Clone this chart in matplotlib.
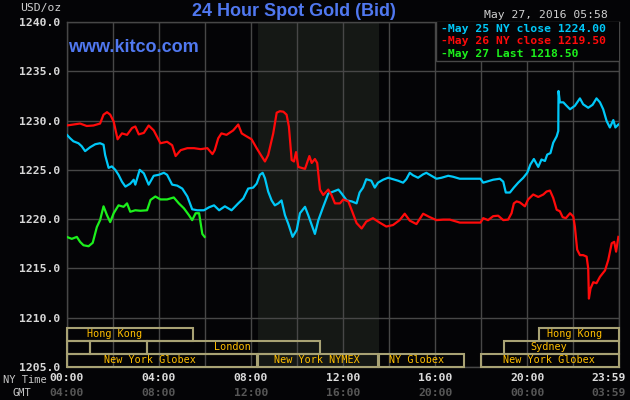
import matplotlib
matplotlib.use('Agg')
import matplotlib.pyplot as plt
from matplotlib.patches import Rectangle
import matplotlib.transforms as mtransforms

# hours since 00:00 NY time, bid price in USD/oz
cyan_t = [0, 0.15, 0.29, 0.51, 0.65, 0.8, 1.02, 1.24, 1.45, 1.6, 1.67, 1.82, 1.96, 2.11, 2.25, 2.4, 2.55,
          2.76, 2.91, 2.98, 3.17, 3.35, 3.56, 3.78, 4.0, 4.22, 4.36, 4.58, 4.8, 5.02, 5.24, 5.45, 5.67,
          5.96, 6.18, 6.4, 6.62, 6.87, 7.16, 7.45, 7.67, 7.88, 8.1, 8.25, 8.39, 8.51, 8.61, 8.75, 8.9,
          9.04, 9.19, 9.33, 9.48, 9.62, 9.81, 9.99, 10.13, 10.35, 10.49, 10.64, 10.78, 10.93, 11.14,
          11.36, 11.58, 11.8, 11.94, 12.16, 12.38, 12.59, 12.72, 12.87, 13.01, 13.23, 13.38, 13.52,
          13.74, 13.96, 14.17, 14.39, 14.61, 14.75, 14.9, 15.04, 15.26, 15.48, 15.62, 15.84, 16.06,
          16.28, 16.57, 16.78, 17.07, 17.97, 18.09, 18.3, 18.52, 18.81, 18.96, 19.07, 19.25, 19.42,
          19.61, 19.83, 20.0, 20.14, 20.29, 20.48, 20.62, 20.77, 20.87, 21.01, 21.13, 21.28, 21.35,
          21.36, 21.42, 21.57, 21.71, 21.86, 22.07, 22.29, 22.43, 22.65, 22.84, 23.01, 23.16, 23.3,
          23.45, 23.59, 23.74, 23.83, 23.96]
cyan_p = [1228.57, 1228.2, 1227.9, 1227.7, 1227.4, 1226.9, 1227.3, 1227.6, 1227.7, 1227.55, 1226.5,
          1225.2, 1225.35, 1225.0, 1224.5, 1223.8, 1223.3, 1223.6, 1224.0, 1223.5, 1225.0, 1224.65,
          1223.5, 1224.4, 1224.5, 1224.7, 1224.5, 1223.5, 1223.4, 1223.1, 1222.3, 1221.0, 1220.9,
          1220.9, 1221.2, 1221.4, 1220.9, 1221.3, 1220.9, 1221.6, 1222.1, 1223.1, 1223.2, 1223.6,
          1224.5, 1224.7, 1224.15, 1222.8, 1221.9, 1221.4, 1221.6, 1221.9, 1220.4, 1219.55, 1218.2,
          1218.9, 1220.6, 1221.25, 1220.4, 1219.4, 1218.5, 1219.9, 1221.25, 1222.6, 1222.8, 1223.0,
          1222.6, 1221.9, 1221.8, 1221.6, 1222.7, 1223.2, 1224.05, 1223.9, 1223.2, 1223.7, 1224.0,
          1224.2, 1224.05, 1223.9, 1223.7, 1224.05, 1224.7, 1224.45, 1224.2, 1224.55, 1224.7, 1224.4,
          1224.1, 1224.2, 1224.4, 1224.3, 1224.1, 1224.1, 1223.7, 1223.85, 1224.0, 1224.1, 1223.8,
          1222.7, 1222.7, 1223.2, 1223.7, 1224.2, 1224.7, 1225.55, 1226.1, 1225.3, 1226.05, 1225.9,
          1226.55, 1226.7, 1227.75, 1228.4, 1228.95, 1233.0, 1231.85, 1231.85, 1231.5, 1231.15,
          1231.5, 1232.25, 1231.65, 1231.3, 1231.6, 1232.25, 1231.85, 1231.15, 1229.95, 1229.3,
          1230.05, 1229.3, 1229.6]

red_t = [0, 0.29, 0.58, 0.87, 1.16, 1.45, 1.6, 1.75, 1.89, 2.04, 2.21, 2.4, 2.62, 2.84, 2.98, 3.13,
         3.35, 3.56, 3.78, 4.07, 4.36, 4.58, 4.73, 4.95, 5.24, 5.53, 5.82, 6.11, 6.33, 6.43, 6.58,
         6.72, 6.94, 7.23, 7.45, 7.6, 7.81, 8.03, 8.25, 8.46, 8.61, 8.75, 8.97, 9.12, 9.26, 9.41,
         9.55, 9.65, 9.77, 9.87, 9.96, 10.06, 10.2, 10.35, 10.54, 10.64, 10.78, 10.88, 11.0, 11.14,
         11.36, 11.5, 11.65, 11.87, 12.01, 12.23, 12.38, 12.59, 12.81, 13.01, 13.3, 13.59, 13.88,
         14.17, 14.46, 14.68, 14.9, 15.19, 15.48, 15.77, 16.06, 16.35, 16.64, 16.93, 17.07, 17.97,
         18.09, 18.3, 18.52, 18.74, 18.96, 19.17, 19.32, 19.42, 19.54, 19.68, 19.9, 20.04, 20.26,
         20.48, 20.7, 20.84, 20.99, 21.13, 21.28, 21.42, 21.54, 21.68, 21.86, 22.0, 22.07, 22.17,
         22.29, 22.43, 22.58, 22.65, 22.68, 22.75, 22.87, 23.01, 23.16, 23.38, 23.52, 23.67, 23.78,
         23.86, 23.96]
red_p = [1229.5, 1229.6, 1229.7, 1229.45, 1229.5, 1229.7, 1230.6, 1230.85, 1230.6, 1229.9, 1228.1,
         1228.7, 1228.55, 1229.25, 1229.4, 1228.6, 1228.75, 1229.5, 1229.0, 1227.7, 1227.85, 1227.5,
         1226.4, 1227.0, 1227.2, 1227.2, 1227.1, 1227.2, 1226.6, 1227.0, 1228.2, 1228.7, 1228.55,
         1229.0, 1229.6, 1228.7, 1228.4, 1228.1, 1227.2, 1226.4, 1225.85, 1226.5, 1228.7, 1230.8,
         1230.95, 1230.9, 1230.6, 1229.4, 1226.0, 1225.85, 1226.8, 1225.3, 1225.2, 1225.1, 1226.4,
         1225.7, 1226.1, 1225.7, 1223.0, 1222.45, 1223.0, 1222.45, 1221.6, 1221.6, 1222.0, 1221.8,
         1220.9, 1219.6, 1219.05, 1219.75, 1220.1, 1219.65, 1219.25, 1219.4, 1219.9, 1220.55,
         1219.85, 1219.5, 1220.55, 1220.2, 1219.9, 1219.95, 1219.95, 1219.75, 1219.65, 1219.65,
         1220.1, 1219.9, 1220.3, 1220.35, 1219.9, 1219.95, 1220.6, 1221.6, 1221.8, 1221.7, 1221.3,
         1222.0, 1222.5, 1222.25, 1222.5, 1222.8, 1222.9, 1222.15, 1220.95, 1220.8, 1220.2, 1220.1,
         1220.6, 1220.27, 1219.25, 1216.9, 1216.35, 1216.35, 1216.2, 1215.0, 1211.94, 1212.96,
         1213.6, 1213.5, 1214.15, 1214.8, 1215.85, 1217.55, 1217.7, 1216.7, 1218.2]

green_t = [0, 0.22, 0.44, 0.58, 0.73, 0.95, 1.13, 1.31, 1.45, 1.6, 1.75, 1.89, 2.04, 2.25, 2.47, 2.62,
           2.76, 2.98, 3.2, 3.49, 3.64, 3.85, 4.07, 4.36, 4.65, 4.87, 5.09, 5.31, 5.45, 5.6, 5.75,
           5.82, 5.89, 5.99]
green_p = [1218.2, 1218.0, 1218.2, 1217.7, 1217.35, 1217.25, 1217.6, 1219.2, 1219.9, 1221.3, 1220.4,
           1219.7, 1220.6, 1221.4, 1221.25, 1221.6, 1220.75, 1220.9, 1220.85, 1220.9, 1221.95, 1222.3,
           1222.0, 1222.0, 1222.2, 1221.6, 1221.1, 1220.4, 1219.9, 1220.6, 1220.6, 1219.55, 1218.5,
           1218.2]

legend_labels = ['May 25 NY close 1224.00', 'May 26 NY close 1219.50', 'May 27 Last 1218.50']
ny_ticks = [0, 4, 8, 12, 16, 20]
ny_labels = ['00:00', '04:00', '08:00', '12:00', '16:00', '20:00', '23:59']
gmt_labels = ['04:00', '08:00', '12:00', '16:00', '20:00', '00:00', '03:59']

# market sessions: (row, start hour, end hour, label, label hour)
sessions = [
    (0, 0.0, 5.5, 'Hong Kong', 2.1),
    (0, 20.5, 24.0, 'Hong Kong', 22.05),
    (1, 0.0, 1.0, '', 0),
    (1, 1.0, 3.5, '', 0),
    (1, 3.5, 11.0, 'London', 7.2),
    (1, 19.0, 24.0, 'Sydney', 20.95),
    (2, 0.0, 8.27, 'New York Globex', 3.62),
    (2, 8.33, 13.5, 'New York NYMEX', 10.88),
    (2, 13.55, 17.25, 'NY Globex', 15.18),
    (2, 18.0, 24.0, 'New York Globex', 20.95),
]

bg = '#040406'
grid_c = '#474747'
mono = 'DejaVu Sans Mono'
c_cyan = '#00c8f8'
c_red = '#ff0a0a'
c_green = '#1cf01c'
c_blue = '#5078f0'

fig = plt.figure(figsize=(6.3, 4.0), dpi=100, facecolor=bg)
ax = fig.add_axes([66.7 / 630, 1 - 367 / 400, 552.6 / 630, 345 / 400])
ax.set_facecolor(bg)
ax.set_xlim(0, 24)
ax.set_ylim(1205, 1240)

# NYMEX pit hours shading
ax.axvspan(8.33, 13.55, color='#151815', zorder=0, lw=0)

ax.set_xticks(range(0, 25, 2))
ax.set_xticklabels([])
ax.set_yticks(range(1205, 1241, 5))
ax.set_yticklabels(['%.1f' % v for v in range(1205, 1241, 5)],
                   family=mono, fontsize=8.2, fontweight='bold', color='#d8d8d8')
ax.tick_params(length=0, pad=5)
ax.grid(True, color=grid_c, lw=1, zorder=1)
for s in ax.spines.values():
    s.set_color(grid_c)
    s.set_linewidth(1)

ax.plot(cyan_t, cyan_p, color=c_cyan, lw=1.6, zorder=3)
ax.plot(red_t, red_p, color=c_red, lw=1.6, zorder=3)
ax.plot(green_t, green_p, color=c_green, lw=1.6, zorder=4)

# session boxes
row_h = 4.0 / 3
for row, h0, h1, lab, lh in sessions:
    y0 = 1205 + (2 - row) * row_h
    ax.add_patch(Rectangle((h0, y0), h1 - h0, row_h, fill=False, edgecolor='#a8a274',
                           lw=1.5, zorder=5, clip_on=False))
    if lab:
        ax.text(lh, y0 + row_h / 2, lab, family=mono, fontsize=7.3, color='#ffbe00',
                ha='center', va='center', zorder=6)

# legend box
ax.add_patch(Rectangle((0.668, 0.887), 0.34, 0.12, transform=ax.transAxes, facecolor=bg,
                       edgecolor=grid_c, lw=1, zorder=7))
for i, (lab, c) in enumerate(zip(legend_labels, [c_cyan, c_red, c_green])):
    ax.text(0.678, 0.98 - i * 0.036, '-' + lab, transform=ax.transAxes, family=mono,
            fontsize=8.2, fontweight='bold', color=c, ha='left', va='center', zorder=8)

# time labels
trans = mtransforms.blended_transform_factory(ax.transData, fig.transFigure)
for i, h in enumerate(ny_ticks + [23.52]):
    ax.text(h, 1 - 378 / 400, ny_labels[i], transform=trans, family=mono, fontsize=8.2,
            fontweight='bold', color='#dcdcdc', ha='center', va='center')
    ax.text(h, 1 - 393 / 400, gmt_labels[i], transform=trans, family=mono, fontsize=8.2,
            fontweight='bold', color='#575757', ha='center', va='center')
fig.text(3 / 630, 1 - 380 / 400, 'NY Time', family=mono, fontsize=7.5, color='#c8c8c8',
         ha='left', va='center')
fig.text(12 / 630, 1 - 393 / 400, 'GMT', family=mono, fontsize=7.5, color='#c8c8c8',
         ha='left', va='center')

fig.text(20 / 630, 1 - 8 / 400, 'USD/oz', family=mono, fontsize=8.2, color='#d0d0d0',
         ha='left', va='center')
fig.text(294 / 630, 1 - 11 / 400, '24 Hour Spot Gold (Bid)', family='Liberation Sans',
         fontsize=13, fontweight='bold', color=c_blue, ha='center', va='center')
fig.text(608 / 630, 1 - 15 / 400, 'May 27, 2016 05:58', family=mono, fontsize=8.2,
         color='#d0d0d0', ha='right', va='center')
ax.text(68 / 630, 1 - 48 / 400, 'www.kitco.com', transform=fig.transFigure,
        family='Liberation Sans', fontsize=13, fontweight='bold', color=c_blue,
        ha='left', va='center', zorder=8)

fig.savefig('out.png', dpi=100, facecolor=bg)
